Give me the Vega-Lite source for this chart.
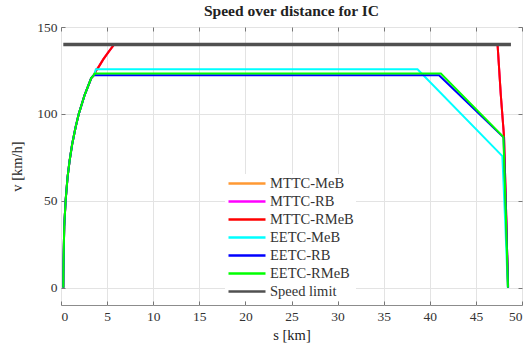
{
  "$schema": "https://vega.github.io/schema/vega-lite/v6.json",
  "width": 461,
  "height": 278,
  "autosize": {"type": "none"},
  "padding": {"left": 61, "top": 27, "right": 7, "bottom": 40},
  "background": "white",
  "title": {"text": "Speed over distance for IC", "font": "Liberation Serif", "fontSize": 15.5, "fontWeight": "bold", "color": "#222", "offset": 1, "anchor": "middle"},
  "config": {"view": {"stroke": "#8c8c8c", "strokeWidth": 1}, "font": "Liberation Serif"},
  "datasets": {
    "runs": [
      {"series": "MTTC-MeB", "s": 0.25, "v": 0}, {"series": "MTTC-MeB", "s": 0.26, "v": 8}, {"series": "MTTC-MeB", "s": 0.28, "v": 16}, {"series": "MTTC-MeB", "s": 0.35, "v": 35}, {"series": "MTTC-MeB", "s": 0.5, "v": 50}, {"series": "MTTC-MeB", "s": 0.71, "v": 63.4}, {"series": "MTTC-MeB", "s": 0.93, "v": 73}, {"series": "MTTC-MeB", "s": 1.21, "v": 82.5}, {"series": "MTTC-MeB", "s": 1.57, "v": 92}, {"series": "MTTC-MeB", "s": 1.93, "v": 100}, {"series": "MTTC-MeB", "s": 2.57, "v": 111}, {"series": "MTTC-MeB", "s": 3.28, "v": 120.6}, {"series": "MTTC-MeB", "s": 3.54, "v": 122.2}, {"series": "MTTC-MeB", "s": 3.65, "v": 123.2}, {"series": "MTTC-MeB", "s": 3.8, "v": 124.8}, {"series": "MTTC-MeB", "s": 4.1, "v": 127.2}, {"series": "MTTC-MeB", "s": 4.6, "v": 131.5}, {"series": "MTTC-MeB", "s": 5.2, "v": 136}, {"series": "MTTC-MeB", "s": 5.77, "v": 140}, {"series": "MTTC-MeB", "s": 47.35, "v": 140}, {"series": "MTTC-MeB", "s": 47.7, "v": 111}, {"series": "MTTC-MeB", "s": 48.05, "v": 87}, {"series": "MTTC-MeB", "s": 48.27, "v": 45}, {"series": "MTTC-MeB", "s": 48.48, "v": 0},
      {"series": "MTTC-RB", "s": 0.25, "v": 0}, {"series": "MTTC-RB", "s": 0.26, "v": 8}, {"series": "MTTC-RB", "s": 0.28, "v": 16}, {"series": "MTTC-RB", "s": 0.35, "v": 35}, {"series": "MTTC-RB", "s": 0.5, "v": 50}, {"series": "MTTC-RB", "s": 0.71, "v": 63.4}, {"series": "MTTC-RB", "s": 0.93, "v": 73}, {"series": "MTTC-RB", "s": 1.21, "v": 82.5}, {"series": "MTTC-RB", "s": 1.57, "v": 92}, {"series": "MTTC-RB", "s": 1.93, "v": 100}, {"series": "MTTC-RB", "s": 2.57, "v": 111}, {"series": "MTTC-RB", "s": 3.28, "v": 120.6}, {"series": "MTTC-RB", "s": 3.54, "v": 122.2}, {"series": "MTTC-RB", "s": 3.65, "v": 123.2}, {"series": "MTTC-RB", "s": 3.8, "v": 124.8}, {"series": "MTTC-RB", "s": 4.1, "v": 127.2}, {"series": "MTTC-RB", "s": 4.6, "v": 131.5}, {"series": "MTTC-RB", "s": 5.2, "v": 136}, {"series": "MTTC-RB", "s": 5.77, "v": 140}, {"series": "MTTC-RB", "s": 47.35, "v": 140}, {"series": "MTTC-RB", "s": 47.7, "v": 111}, {"series": "MTTC-RB", "s": 48.05, "v": 87}, {"series": "MTTC-RB", "s": 48.27, "v": 45}, {"series": "MTTC-RB", "s": 48.48, "v": 0},
      {"series": "MTTC-RMeB", "s": 0.25, "v": 0}, {"series": "MTTC-RMeB", "s": 0.26, "v": 8}, {"series": "MTTC-RMeB", "s": 0.28, "v": 16}, {"series": "MTTC-RMeB", "s": 0.35, "v": 35}, {"series": "MTTC-RMeB", "s": 0.5, "v": 50}, {"series": "MTTC-RMeB", "s": 0.71, "v": 63.4}, {"series": "MTTC-RMeB", "s": 0.93, "v": 73}, {"series": "MTTC-RMeB", "s": 1.21, "v": 82.5}, {"series": "MTTC-RMeB", "s": 1.57, "v": 92}, {"series": "MTTC-RMeB", "s": 1.93, "v": 100}, {"series": "MTTC-RMeB", "s": 2.57, "v": 111}, {"series": "MTTC-RMeB", "s": 3.28, "v": 120.6}, {"series": "MTTC-RMeB", "s": 3.54, "v": 122.2}, {"series": "MTTC-RMeB", "s": 3.65, "v": 123.2}, {"series": "MTTC-RMeB", "s": 3.8, "v": 124.8}, {"series": "MTTC-RMeB", "s": 4.1, "v": 127.2}, {"series": "MTTC-RMeB", "s": 4.6, "v": 131.5}, {"series": "MTTC-RMeB", "s": 5.2, "v": 136}, {"series": "MTTC-RMeB", "s": 5.77, "v": 140}, {"series": "MTTC-RMeB", "s": 47.35, "v": 140}, {"series": "MTTC-RMeB", "s": 47.7, "v": 111}, {"series": "MTTC-RMeB", "s": 48.05, "v": 87}, {"series": "MTTC-RMeB", "s": 48.27, "v": 45}, {"series": "MTTC-RMeB", "s": 48.48, "v": 0},
      {"series": "EETC-MeB", "s": 0.25, "v": 0}, {"series": "EETC-MeB", "s": 0.26, "v": 8}, {"series": "EETC-MeB", "s": 0.28, "v": 16}, {"series": "EETC-MeB", "s": 0.35, "v": 35}, {"series": "EETC-MeB", "s": 0.5, "v": 50}, {"series": "EETC-MeB", "s": 0.71, "v": 63.4}, {"series": "EETC-MeB", "s": 0.93, "v": 73}, {"series": "EETC-MeB", "s": 1.21, "v": 82.5}, {"series": "EETC-MeB", "s": 1.57, "v": 92}, {"series": "EETC-MeB", "s": 1.93, "v": 100}, {"series": "EETC-MeB", "s": 2.57, "v": 111}, {"series": "EETC-MeB", "s": 3.28, "v": 120.6}, {"series": "EETC-MeB", "s": 3.54, "v": 122.2}, {"series": "EETC-MeB", "s": 3.65, "v": 123.2}, {"series": "EETC-MeB", "s": 3.78, "v": 125.7}, {"series": "EETC-MeB", "s": 38.67, "v": 125.7}, {"series": "EETC-MeB", "s": 47.87, "v": 75.7}, {"series": "EETC-MeB", "s": 48.2, "v": 35}, {"series": "EETC-MeB", "s": 48.46, "v": 0},
      {"series": "EETC-RB", "s": 0.25, "v": 0}, {"series": "EETC-RB", "s": 0.26, "v": 8}, {"series": "EETC-RB", "s": 0.28, "v": 16}, {"series": "EETC-RB", "s": 0.35, "v": 35}, {"series": "EETC-RB", "s": 0.5, "v": 50}, {"series": "EETC-RB", "s": 0.71, "v": 63.4}, {"series": "EETC-RB", "s": 0.93, "v": 73}, {"series": "EETC-RB", "s": 1.21, "v": 82.5}, {"series": "EETC-RB", "s": 1.57, "v": 92}, {"series": "EETC-RB", "s": 1.93, "v": 100}, {"series": "EETC-RB", "s": 2.57, "v": 111}, {"series": "EETC-RB", "s": 3.28, "v": 120.6}, {"series": "EETC-RB", "s": 3.54, "v": 122.2}, {"series": "EETC-RB", "s": 41.0, "v": 122.2}, {"series": "EETC-RB", "s": 48.0, "v": 86.5}, {"series": "EETC-RB", "s": 48.25, "v": 45}, {"series": "EETC-RB", "s": 48.5, "v": 0},
      {"series": "EETC-RMeB", "s": 0.25, "v": 0}, {"series": "EETC-RMeB", "s": 0.26, "v": 8}, {"series": "EETC-RMeB", "s": 0.28, "v": 16}, {"series": "EETC-RMeB", "s": 0.35, "v": 35}, {"series": "EETC-RMeB", "s": 0.5, "v": 50}, {"series": "EETC-RMeB", "s": 0.71, "v": 63.4}, {"series": "EETC-RMeB", "s": 0.93, "v": 73}, {"series": "EETC-RMeB", "s": 1.21, "v": 82.5}, {"series": "EETC-RMeB", "s": 1.57, "v": 92}, {"series": "EETC-RMeB", "s": 1.93, "v": 100}, {"series": "EETC-RMeB", "s": 2.57, "v": 111}, {"series": "EETC-RMeB", "s": 3.28, "v": 120.6}, {"series": "EETC-RMeB", "s": 3.54, "v": 122.2}, {"series": "EETC-RMeB", "s": 3.65, "v": 123.2}, {"series": "EETC-RMeB", "s": 41.2, "v": 123.2}, {"series": "EETC-RMeB", "s": 47.98, "v": 86.8}, {"series": "EETC-RMeB", "s": 48.23, "v": 45}, {"series": "EETC-RMeB", "s": 48.48, "v": 0}
    ],
    "limit": [
      {"series": "Speed limit", "s": 0.25, "v": 140},
      {"series": "Speed limit", "s": 48.8, "v": 140}
    ]
  },
  "layer": [
    {
      "data": {"name": "runs"},
      "mark": {"type": "line", "strokeWidth": 2, "clip": true},
      "encoding": {
        "x": {"field": "s", "type": "quantitative",
          "scale": {"domain": [0, 50], "nice": false, "zero": false},
          "axis": {"orient": "bottom", "values": [0, 5, 10, 15, 20, 25, 30, 35, 40, 45, 50], "title": "s [km]", "grid": true, "gridColor": "#e3e3e3", "domain": false, "tickSize": -4, "tickColor": "#777", "labelPadding": 8, "labelFontSize": 13.5, "labelColor": "#333", "labelFont": "Liberation Serif", "titleFont": "Liberation Serif", "titleFontSize": 14.5, "titleFontWeight": "normal", "titleColor": "#222", "titlePadding": 6}},
        "y": {"field": "v", "type": "quantitative",
          "scale": {"domain": [-10, 150], "nice": false, "zero": false},
          "axis": {"orient": "left", "values": [0, 50, 100, 150], "title": "v [km/h]", "grid": true, "gridColor": "#e3e3e3", "domain": false, "tickSize": -4, "tickColor": "#777", "labelPadding": 8, "labelFontSize": 13.5, "labelColor": "#333", "labelFont": "Liberation Serif", "titleFont": "Liberation Serif", "titleFontSize": 14.5, "titleFontWeight": "normal", "titleColor": "#222", "titlePadding": 12}},
        "color": {"field": "series", "type": "nominal",
          "scale": {"domain": ["MTTC-MeB", "MTTC-RB", "MTTC-RMeB", "EETC-MeB", "EETC-RB", "EETC-RMeB", "Speed limit"],
                    "range": ["#ff9933", "#ff00ff", "#ff0000", "#00ffff", "#0000ff", "#00ff00", "#505050"]},
          "legend": {"orient": "none", "legendX": 164, "legendY": 147, "title": null, "symbolType": "stroke", "symbolSize": 1369, "symbolStrokeWidth": 2.5, "labelFont": "Liberation Serif", "labelFontSize": 14.5, "labelColor": "#333", "fillColor": "white", "padding": 2, "clipHeight": 15, "rowPadding": 2, "labelOffset": 3}}
      }
    },
    {
      "data": {"name": "limit"},
      "mark": {"type": "line", "strokeWidth": 3.5},
      "encoding": {
        "x": {"field": "s", "type": "quantitative",
          "axis": {"orient": "top", "values": [0, 5, 10, 15, 20, 25, 30, 35, 40, 45, 50], "labels": false, "title": null, "grid": false, "domain": false, "tickSize": -4, "tickColor": "#777"}},
        "y": {"field": "v", "type": "quantitative",
          "axis": {"orient": "right", "values": [0, 50, 100, 150], "labels": false, "title": null, "grid": false, "domain": false, "tickSize": -4, "tickColor": "#777"}},
        "color": {"field": "series", "type": "nominal"}
      }
    }
  ]
}
